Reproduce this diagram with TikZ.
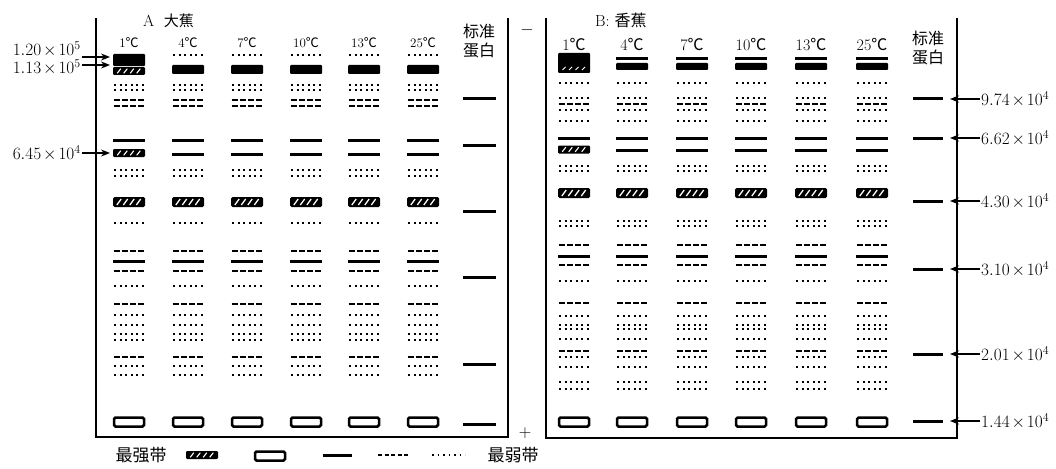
\documentclass[tikz,border=0pt]{standalone}
\usepackage{fontspec}
\newfontfamily\cjk{Noto Sans CJK SC}
\usetikzlibrary{arrows.meta}
\newcommand{\tms}{\mkern2mu{\times}\mkern2mu}
\begin{document}
\begin{tikzpicture}[x=1pt,y=-1pt,
  frame/.style={line width=1.8pt},
  sol/.style={line width=3pt},
  dsh/.style={line width=2.4pt, dash pattern=on 6pt off 2.2pt},
  dts/.style={line width=1.9pt, dash pattern=on 1.9pt off 3.7pt},
  lbl/.style={font=\fontsize{18}{20}\selectfont, inner sep=1pt},
  tA/.style={font=\fontsize{13}{15}\selectfont, inner sep=1pt},
  tB/.style={font=\fontsize{16}{18}\selectfont, inner sep=1pt},
  cj/.style={font=\fontsize{16}{19}\selectfont\cjk, inner sep=1pt, align=center},
  arr/.style={line width=1.3pt, -{Stealth[length=9pt,width=7pt]}},
  hatchbig/.pic={
    \fill[rounded corners=1.5pt] (-16,-5) rectangle (16,5);
    \foreach \i in {-10,-3.5,3,9.5} \draw[white, line width=1.3pt] (\i-2.2,3)--(\i+2.2,-3);
  },
  hatchsmall/.pic={
    \fill[rounded corners=1.2pt] (-16,-4) rectangle (16,4);
    \foreach \i in {-10,-3.5,3,9.5} \draw[white, line width=1.1pt] (\i-1.8,2.3)--(\i+1.8,-2.3);
  },
  openbox/.pic={
    \draw[line width=2.5pt, rounded corners=1.5pt] (-15,-4.5) rectangle (15,4.5);
  },
]
\useasboundingbox (0,0) rectangle (1056,468);

% ---------- frames ----------
\draw[frame] (96,18)--(96,437)--(508,437)--(508,18);
\draw[frame] (546,18)--(546,438)--(957,438)--(957,18);
\node[lbl] (minus) at (527,30) {$-$};
\node[lbl] (plus) at (525,433) {$+$};

% ---------- headers ----------
\node[lbl, anchor=west, font=\fontsize{16}{18}\selectfont] (hA) at (142,21) {A\ \ {\cjk\fontsize{15}{17}\selectfont 大蕉}};
\node[lbl, anchor=west, font=\fontsize{16}{18}\selectfont] (hB) at (594,20) {B: {\cjk 香蕉}};

\foreach \x/\t in {129/1,188/4,247/7,306/10,364/13,423/25}
  \node[tA] (tA\t) at (\x,43) {\t{\cjk ℃}};
\foreach \x/\t in {574/1,632/4,692/7,751/10,811/13,872/25}
  \node[tB] (tB\t) at (\x,45) {\t{\cjk ℃}};

\node[cj] (stdA) at (479,41) {标准\\蛋白};
\node[cj] (stdB) at (928,48) {标准\\蛋白};

% ---------- panel A lanes ----------
\foreach \x in {129,188,247,306,364,423}{
  \foreach \y in {85,90,170,176,223,286,315,325,334,340,366,375}
    \draw[dts] (\x-15,\y)--(\x+15,\y);
  \foreach \y in {100,106,251,271,304,357}
    \draw[dsh] (\x-15.5,\y)--(\x+15.5,\y);
  \foreach \y in {140,261}
    \draw[sol] (\x-16,\y)--(\x+16,\y);
  \pic at (\x,202) {hatchbig};
  \pic at (\x,422) {openbox};
}
\foreach \x in {188,247,306,364,423}{
  \draw[dts] (\x-15,55)--(\x+15,55);
  \fill[rounded corners=1pt] (\x-16,65) rectangle (\x+16,74);
  \draw[sol] (\x-16,154)--(\x+16,154);
}
\fill[rounded corners=1pt] (113,54) rectangle (145,66);
\pic at (129,71) {hatchsmall};
\pic at (129,153) {hatchsmall};

% standard lane A
\foreach \y in {99,145,211,277,364,424}
  \draw[sol] (463,\y)--(496,\y);

% ---------- panel B lanes ----------
\foreach \x in {574,632,692,751,811,872}{
  \foreach \y in {83,98,110,121,166,171,221,226,281,316,325,329,339,357,367,382,389}
    \draw[dts] (\x-15,\y)--(\x+15,\y);
  \foreach \y in {104,245,265,303,351}
    \draw[dsh] (\x-15.5,\y)--(\x+15.5,\y);
  \foreach \y in {138,256}
    \draw[sol] (\x-16,\y)--(\x+16,\y);
  \pic at (\x,193) {hatchbig};
  \pic at (\x,422) {openbox};
}
\foreach \x in {632,692,751,811,872}{
  \draw[sol] (\x-16,59)--(\x+16,59);
  \fill[rounded corners=1pt] (\x-16,63) rectangle (\x+16,70);
  \draw[sol] (\x-16,150)--(\x+16,150);
}
\fill[rounded corners=1pt] (558,53) rectangle (590,73);
\foreach \i in {-10,-3.5,3,9.5} \draw[white, line width=1pt] (574+\i-1.5,70)--(574+\i+1.5,67);
\pic at (574,149.5) {hatchsmall};

% standard lane B
\foreach \y in {99,138,201,269,354,421}
  \draw[sol] (913,\y)--(943,\y);

% ---------- left markers (A) ----------
\node[lbl, anchor=east] (m120) at (82,49) {$1.20\tms10^{5}$};
\node[lbl, anchor=east] (m113) at (82,67) {$1.13\tms10^{5}$};
\node[lbl, anchor=east] (m645) at (82,153) {$6.45\tms10^{4}$};
\coordinate (a120) at (110,57);
\coordinate (a113) at (110,65);
\coordinate (a645) at (110,153);
\draw[arr] (m120.east |- a120) -- (a120);
\draw[arr] (m113.east |- a113) -- (a113);
\draw[arr] (m645.east |- a645) -- (a645);

% ---------- right markers (B) ----------
\foreach \k/\y/\v/\e in {1/99/9.74/4,2/138/6.62/4,3/201/4.30/4,4/269/3.10/4,5/354/2.01/4,6/421/1.44/4}{
  \node[lbl, anchor=west] (rm\k) at (980,\y) {$\v\tms10^{\e}$};
  \coordinate (bm\k) at (950,\y);
  \draw[arr] (rm\k.west) -- (bm\k);
}

% ---------- legend ----------
\node[font=\fontsize{17}{19}\selectfont\cjk, inner sep=1pt] (lgS) at (141,455) {最强带};
\pic at (202,455) {hatchsmall};
\pic at (270,456) {openbox};
\draw[sol] (323,455)--(352,455);
\draw[dsh, dash pattern=on 4pt off 2.5pt, line width=1.8pt] (378,455)--(408,455);
\draw[dts, line width=1.5pt, dash pattern=on 1.5pt off 4pt] (432,455)--(465,455);
\node[font=\fontsize{17}{19}\selectfont\cjk, inner sep=1pt] (lgW) at (513,455) {最弱带};
\end{tikzpicture}
\end{document}
